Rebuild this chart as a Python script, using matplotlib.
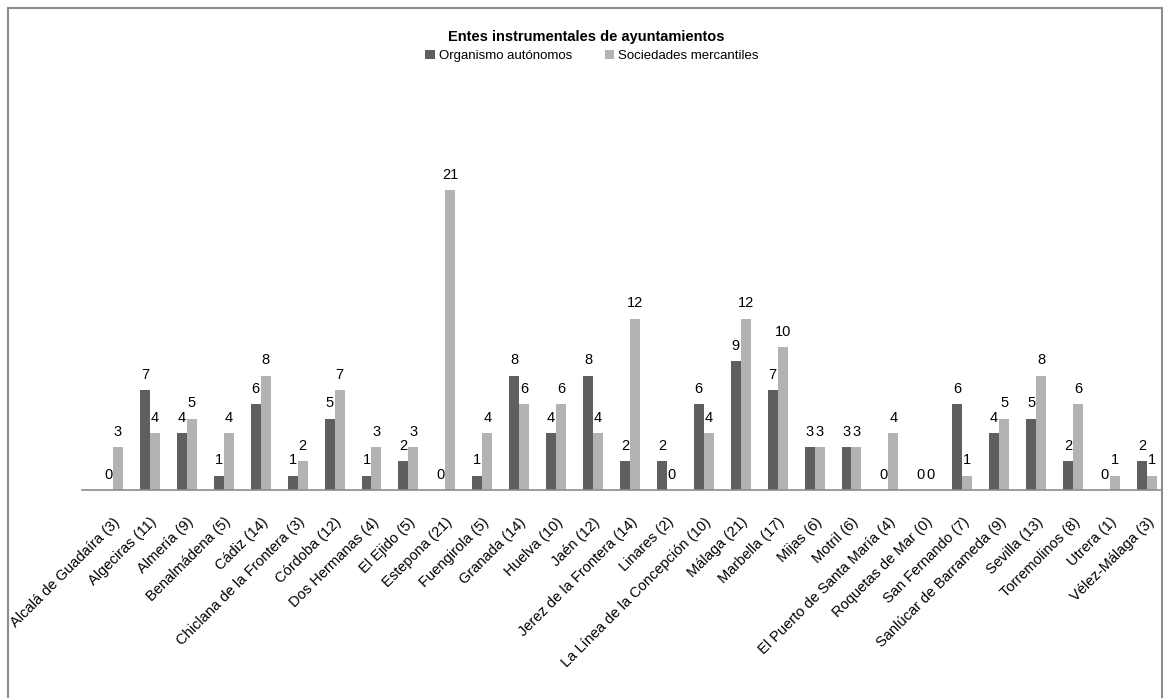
import matplotlib
matplotlib.use("Agg")
import matplotlib.pyplot as plt
from matplotlib.patches import Rectangle
import numpy as np

plt.rcParams['font.family'] = ['Liberation Sans', 'DejaVu Sans']

cities = ["Alcalá de Guadaíra (3)", "Algeciras (11)", "Almería (9)", "Benalmádena (5)",
          "Cádiz (14)", "Chiclana de la Frontera (3)", "Córdoba (12)", "Dos Hermanas (4)",
          "El Ejido (5)", "Estepona (21)", "Fuengirola (5)", "Granada (14)", "Huelva (10)",
          "Jaén (12)", "Jerez de la Frontera (14)", "Linares (2)",
          "La Línea de la Concepción (10)", "Málaga (21)", "Marbella (17)", "Mijas (6)",
          "Motril (6)", "El Puerto de Santa María (4)", "Roquetas de Mar (0)",
          "San Fernando (7)", "Sanlúcar de Barrameda (9)", "Sevilla (13)",
          "Torremolinos (8)", "Utrera (1)", "Vélez-Málaga (3)"]
organismos = [0, 7, 4, 1, 6, 1, 5, 1, 2, 0, 1, 8, 4, 8, 2, 2, 6, 9, 7, 3, 3, 0, 0, 6, 4, 5, 2, 0, 2]
sociedades = [3, 4, 5, 4, 8, 2, 7, 3, 3, 21, 4, 6, 6, 4, 12, 0, 4, 12, 10, 3, 3, 4, 0, 1, 5, 8, 6, 1, 1]

dark = '#5f5f5f'
light = '#b3b3b3'

fig = plt.figure(figsize=(11.64, 6.98), dpi=100)
ax = fig.add_axes([82/1164, 1 - 490/698, (1162 - 82)/1164, (490 - 133)/698])

x = np.arange(len(cities))
w = 0.27
b1 = ax.bar(x - w/2, organismos, w, color=dark, label='Organismo autónomos')
b2 = ax.bar(x + w/2, sociedades, w, color=light, label='Sociedades mercantiles')

for bars in (b1, b2):
    for r in bars:
        h = r.get_height()
        ax.annotate(str(int(h)), (r.get_x() + r.get_width()/2, h), xytext=(0, 6),
                    textcoords='offset points', ha='center', va='bottom', fontsize=10.5)

ax.set_xlim(-0.84, len(cities) - 1 + 0.41)
ax.set_ylim(0, 25)
ax.set_yticks([])
ax.set_xticks(x)
ax.set_xticklabels(cities, rotation=45, ha='right', rotation_mode='anchor', fontsize=10.5)
ax.tick_params(axis='x', length=0, pad=18)
for s in ('top', 'right', 'left'):
    ax.spines[s].set_visible(False)
ax.spines['bottom'].set_color('#8c8c8c')
ax.spines['bottom'].set_linewidth(1.2)

fig.text(586/1164, 1 - 37/698, 'Entes instrumentales de ayuntamientos', ha='center', va='center',
         fontsize=10.5, fontweight='bold')
fig.legend(handles=[b1, b2], loc='center', bbox_to_anchor=(592/1164, 1 - 56/698), ncol=2,
           frameon=False, fontsize=9.5, handlelength=0.7, handleheight=0.7, columnspacing=2.5,
           handletextpad=0.3)

fig.patches.append(Rectangle((8/1164, -0.01), (1162 - 8)/1164, 1.01 - 8/698, transform=fig.transFigure,
                             fill=False, edgecolor='#8c8c8c', linewidth=1.5))

fig.savefig('out.png', dpi=100)
